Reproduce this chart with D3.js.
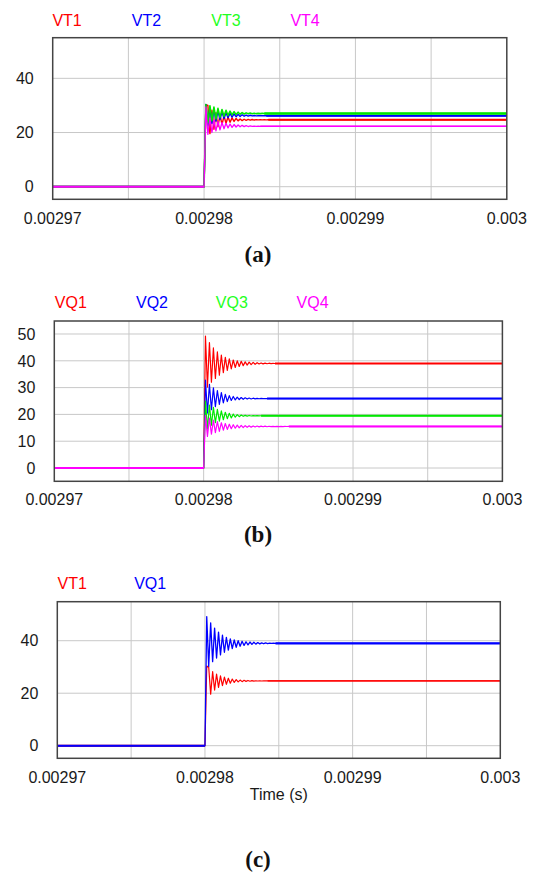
<!DOCTYPE html>
<html><head><meta charset="utf-8">
<script src="https://cdn.jsdelivr.net/npm/d3@7"></script>
<style>html,body{margin:0;padding:0;background:#fff;} svg{display:block;}</style>
</head><body><svg id="c" width="536" height="872"></svg>
<script>
// ---- data ----
const xDomain = [0.00297, 0.003];
const xGrid = [0.00297, 0.002975, 0.00298, 0.002985, 0.00299, 0.002995, 0.003];
const xTickVals = [0.00297, 0.00298, 0.00299, 0.003];
const xTickLabels = ["0.00297", "0.00298", "0.00299", "0.003"];
const yTicksA = [0, 20, 40];
const yTicksB = [0, 10, 20, 30, 40, 50];
const yTicksC = [0, 20, 40];
const stepTime = 0.00298;      // switching instant
const riseTime = 0.12e-6;      // time to first extreme
const halfPeriod = 0.133e-6;   // spacing of successive ringing extremes

// successive ringing extremes (V); last value = steady state
const VT1 = [30.3, 30.0, 19.6, 28.2, 21.2, 27.3, 22.2, 26.6, 22.9, 26.1, 23.4, 25.7, 23.8, 25.4, 24.1, 25.2, 24.3, 25.0, 24.4, 24.9, 24.5, 24.85, 24.55, 24.8, 24.6, 24.75, 24.65, 24.75, 24.65, 24.72, 24.68, 24.7];
const VT2 = [30.4, 22.4, 29.2, 23.4, 28.5, 24.2, 28.0, 24.8, 27.6, 25.2, 27.3, 25.5, 27.05, 25.7, 26.85, 25.85, 26.7, 25.95, 26.55, 26.02, 26.45, 26.08, 26.38, 26.12, 26.3, 26.15, 26.25, 26.17, 26.23, 26.18, 26.2];
const VT3 = [30.3, 23.5, 29.9, 24.3, 29.4, 25.0, 28.9, 25.6, 28.5, 26.0, 28.2, 26.3, 27.9, 26.5, 27.7, 26.65, 27.5, 26.75, 27.35, 26.83, 27.25, 26.9, 27.17, 26.93, 27.12, 26.96, 27.08, 26.98, 27.05, 27.0];
const VT4 = [29.5, 19.3, 25.3, 20.0, 24.6, 20.6, 24.1, 21.0, 23.7, 21.4, 23.4, 21.7, 23.15, 21.9, 22.95, 22.05, 22.8, 22.12, 22.65, 22.18, 22.55, 22.22, 22.45, 22.25, 22.38, 22.27, 22.34, 22.3];
const VQ1 = [49.2, 30.2, 46.8, 32.0, 44.8, 33.4, 43.3, 34.6, 42.1, 35.6, 41.3, 36.4, 40.7, 37.0, 40.3, 37.5, 40.0, 37.9, 39.8, 38.2, 39.6, 38.4, 39.5, 38.6, 39.4, 38.7, 39.3, 38.8, 39.2, 38.85, 39.15, 38.9, 39.1, 38.95, 39.05, 39.0];
const VQ2 = [32.8, 20.5, 31.2, 21.8, 29.9, 22.9, 28.9, 23.7, 28.1, 24.3, 27.5, 24.8, 27.0, 25.2, 26.7, 25.4, 26.45, 25.55, 26.3, 25.65, 26.2, 25.72, 26.1, 25.77, 26.05, 25.82, 26.0, 25.85, 25.95, 25.88, 25.92, 25.9];
const VQ3 = [25.0, 14.5, 23.5, 16.0, 22.6, 16.9, 21.9, 17.5, 21.3, 18.0, 20.8, 18.4, 20.4, 18.7, 20.1, 18.95, 19.9, 19.15, 19.75, 19.28, 19.65, 19.35, 19.6, 19.4, 19.55, 19.45, 19.53, 19.47, 19.5];
const VQ4 = [19.6, 11.8, 18.6, 12.6, 17.9, 13.2, 17.3, 13.7, 16.9, 14.1, 16.6, 14.4, 16.35, 14.65, 16.15, 14.85, 16.0, 15.0, 15.9, 15.1, 15.8, 15.2, 15.75, 15.25, 15.7, 15.3, 15.65, 15.35, 15.62, 15.38, 15.6, 15.4, 15.58, 15.42, 15.56, 15.44, 15.55, 15.45, 15.54, 15.46, 15.52, 15.48, 15.5];

const seriesA = [["VT1", VT1], ["VT2", VT2], ["VT3", VT3], ["VT4", VT4]];
const seriesB = [["VQ1", VQ1], ["VQ2", VQ2], ["VQ3", VQ3], ["VQ4", VQ4]];
const seriesC = [["VT1", VT1], ["VQ1", VQ1]];
const panelLabels = ["(a)", "(b)", "(c)"];

// ---- layout / style ----
const RED = "#ff0000", BLUE = "#0000ff", GREEN = "#00e800", MAG = "#ff00ff";
const panels = [
  { series: seriesA, colors: [RED, BLUE, GREEN, MAG], widths: [1.4, 1.4, 1.6, 1.3], steadyW: [2, 2, 2.4, 1.6],
    yTicks: yTicksA, yDom: [-4.65, 55], left: 52.7, right: 506.8, top: 37.7, bottom: 199.3,
    legendX: [52.4, 131.8, 211.3, 290.4], legendY: 25.7, tickY: 224, title: 0, titleY: 261.5 },
  { series: seriesB, colors: [RED, BLUE, GREEN, MAG], widths: [1.2, 1.2, 1.2, 1.2], steadyW: [2, 2, 2, 2],
    yTicks: yTicksB, yDom: [-4.96, 54.85], left: 54.3, right: 502.4, top: 321, bottom: 481.3,
    legendX: [54.8, 136, 215.8, 296.6], legendY: 307.5, tickY: 505, title: 1, titleY: 541.5 },
  { series: seriesC, colors: [RED, BLUE], widths: [1.2, 1.3], steadyW: [1.3, 2.3],
    yTicks: yTicksC, yDom: [-4.8, 54.86], left: 57.3, right: 500.3, top: 601.7, bottom: 758.3,
    legendX: [57.5, 134.2], legendY: 589, tickY: 782.5, title: 2, titleY: 867, xLabel: "Time (s)", xLabelY: 800 }
];

const svg = d3.select("#c");
const SANS = "'Liberation Sans', Arial, Helvetica, sans-serif";

function points(ext) {
  const p = [[xDomain[0], 0], [stepTime, 0]];
  ext.forEach((v, i) => p.push([stepTime + riseTime + i * halfPeriod, v]));
  p.push([xDomain[1], ext[ext.length - 1]]);
  return p;
}

panels.forEach(P => {
  const x = d3.scaleLinear().domain(xDomain).range([P.left, P.right]);
  const y = d3.scaleLinear().domain(P.yDom).range([P.bottom, P.top]);
  const g = svg.append("g");

  // clip
  const cid = "clip" + P.title;
  svg.append("clipPath").attr("id", cid).append("rect")
    .attr("x", P.left).attr("y", P.top).attr("width", P.right - P.left).attr("height", P.bottom - P.top);

  // grid
  g.append("g").selectAll("line").data(xGrid.slice(1, -1)).join("line")
    .attr("x1", d => x(d)).attr("x2", d => x(d)).attr("y1", P.top).attr("y2", P.bottom)
    .attr("stroke", "#c8c8c8").attr("stroke-width", 1);
  g.append("g").selectAll("line").data(P.yTicks).join("line")
    .attr("x1", P.left).attr("x2", P.right).attr("y1", d => y(d)).attr("y2", d => y(d))
    .attr("stroke", "#c8c8c8").attr("stroke-width", 1);

  // traces
  const line = d3.line().x(d => x(d[0])).y(d => y(d[1]));
  const lg = g.append("g").attr("clip-path", `url(#${cid})`);
  P.series.forEach((s, i) => {
    const pts = points(s[1]);
    lg.append("path").attr("d", line(pts)).attr("fill", "none")
      .attr("stroke", P.colors[i]).attr("stroke-width", P.widths[i]).attr("stroke-linejoin", "round");
    // steady-state part drawn a bit heavier
    const last = pts.length - 2;
    lg.append("path").attr("d", line(pts.slice(last))).attr("fill", "none")
      .attr("stroke", P.colors[i]).attr("stroke-width", P.steadyW[i]);
    lg.append("path").attr("d", line(pts.slice(0, 2))).attr("fill", "none")
      .attr("stroke", P.colors[i]).attr("stroke-width", 2);
  });

  // frame
  g.append("rect").attr("x", P.left).attr("y", P.top).attr("width", P.right - P.left).attr("height", P.bottom - P.top)
    .attr("fill", "none").attr("stroke", "#444").attr("stroke-width", 1.5);

  // y tick labels
  g.append("g").selectAll("text").data(P.yTicks).join("text")
    .attr("x", P.left - 19).attr("y", d => y(d)).attr("dy", "0.36em")
    .attr("text-anchor", "end").attr("font-family", SANS).attr("font-size", 16).attr("fill", "#1a1a1a")
    .text(d => d);

  // x tick labels
  g.append("g").selectAll("text").data(xTickVals).join("text")
    .attr("x", d => x(d)).attr("y", P.tickY)
    .attr("text-anchor", "middle").attr("font-family", SANS).attr("font-size", 16).attr("fill", "#1a1a1a")
    .text((d, i) => xTickLabels[i]);

  // legend
  g.append("g").selectAll("text").data(P.series).join("text")
    .attr("x", (d, i) => P.legendX[i]).attr("y", P.legendY)
    .attr("font-family", SANS).attr("font-size", 16).attr("fill", (d, i) => P.colors[i] === GREEN ? "#22ff22" : P.colors[i])
    .text(d => d[0]);

  if (P.xLabel) {
    g.append("text").attr("x", (P.left + P.right) / 2).attr("y", P.xLabelY)
      .attr("text-anchor", "middle").attr("font-family", SANS).attr("font-size", 16).attr("fill", "#1a1a1a")
      .text(P.xLabel);
  }

  g.append("text").attr("x", 258).attr("y", P.titleY).attr("text-anchor", "middle")
    .attr("font-family", "'Liberation Serif', 'Times New Roman', serif").attr("font-weight", "bold")
    .attr("font-size", 23).attr("fill", "#111").text(panelLabels[P.title]);
});
</script>
</body></html>
